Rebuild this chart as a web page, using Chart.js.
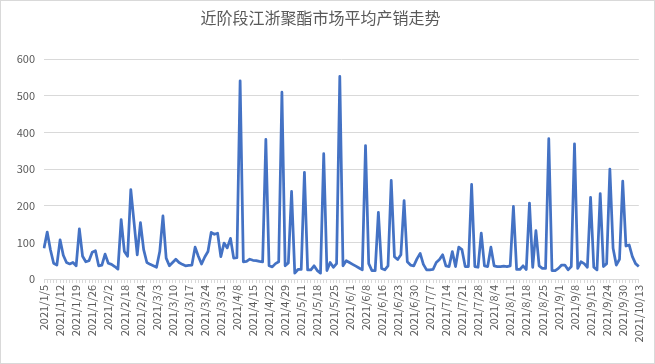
<!DOCTYPE html>
<html lang="zh">
<head>
    <meta charset="UTF-8">
    <title>近阶段江浙聚酯市场平均产销走势</title>
    <script src="https://cdn.jsdelivr.net/npm/chart.js"></script>
    <style>
        * {
            padding: 0px;
            margin: 0px;
            box-sizing: border-box;
        }

        body {
            background-color: #ffffff;
        }

        .chart-box {
            width: 655px;
            height: 364px;
            border: 1px solid #d9d9d9;
            background-color: #ffffff;
        }
    </style>
</head>

<body>
    <div class="chart-box">
        <canvas id="chart1" width="653" height="362"></canvas>
    </div>

    <script>
        // tick labels, one every 5 trading days
        const tickLabels = ['2021/1/5', '2021/1/12', '2021/1/19', '2021/1/26', '2021/2/2', '2021/2/18',
            '2021/2/24', '2021/3/3', '2021/3/10', '2021/3/17', '2021/3/24', '2021/3/31', '2021/4/8',
            '2021/4/15', '2021/4/22', '2021/4/29', '2021/5/11', '2021/5/18', '2021/5/25', '2021/6/1',
            '2021/6/8', '2021/6/16', '2021/6/23', '2021/6/30', '2021/7/7', '2021/7/14', '2021/7/21',
            '2021/7/28', '2021/8/4', '2021/8/11', '2021/8/18', '2021/8/25', '2021/9/1', '2021/9/8',
            '2021/9/15', '2021/9/24', '2021/9/30', '2021/10/13'];

        // average sales ratio (%), one value per trading day
        const salesRatio = [
            84, 128, 80, 43, 38, 107, 65, 45, 41, 45,
            36, 137, 62, 47, 50, 73, 77, 36, 38, 68,
            43, 40, 34, 27, 162, 75, 62, 244, 155, 66,
            154, 80, 45, 40, 36, 32, 75, 172, 57, 36,
            45, 54, 45, 40, 36, 37, 38, 87, 62, 41,
            60, 75, 127, 122, 125, 61, 98, 85, 111, 57,
            58, 541, 47, 48, 54, 51, 50, 48, 47, 381,
            36, 33, 42, 47, 510, 36, 44, 239, 16, 26,
            26, 291, 25, 25, 36, 23, 16, 342, 23, 45,
            32, 42, 553, 36, 50, 45, 40, 35, 30, 25,
            364, 42, 23, 23, 182, 29, 25, 36, 269, 61,
            53, 66, 214, 47, 38, 36, 55, 70, 40, 25,
            25, 26, 45, 53, 66, 36, 34, 75, 34, 87,
            80, 34, 34, 258, 34, 32, 125, 36, 34, 87,
            36, 34, 34, 35, 34, 36, 198, 26, 26, 36,
            26, 207, 32, 132, 36, 29, 29, 383, 23, 23,
            29, 38, 38, 25, 34, 369, 29, 47, 42, 32,
            223, 32, 25, 233, 34, 42, 300, 84, 38, 54,
            267, 90, 93, 61, 42, 34
        ];

        const labelStep = 5;
        const labels = salesRatio.map((v, i) => (i % labelStep === 0 ? tickLabels[i / labelStep] : ''));

        const ctx = document.getElementById('chart1').getContext('2d');
        new Chart(ctx, {
            type: 'line',
            data: {
                labels: labels,
                datasets: [{
                    label: '平均产销',
                    data: salesRatio,
                    fill: false,
                    borderColor: '#4472c4',
                    borderWidth: 2.75,
                    borderJoinStyle: 'round',
                    pointRadius: 0,
                    tension: 0
                }]
            },
            options: {
                responsive: false,
                animation: false,
                layout: {
                    padding: { left: 0, right: 14, top: 0, bottom: 0 }
                },
                plugins: {
                    legend: { display: false },
                    tooltip: { enabled: false },
                    title: {
                        display: true,
                        text: '近阶段江浙聚酯市场平均产销走势',
                        color: '#595959',
                        font: { family: 'Noto Sans CJK SC', size: 16, weight: 'normal' },
                        padding: { top: 7, bottom: 32 }
                    }
                },
                scales: {
                    x: {
                        offset: false,
                        grid: {
                            display: true,
                            drawOnChartArea: false,
                            drawTicks: true,
                            tickLength: 4,
                            color: '#d9d9d9'
                        },
                        border: { color: '#d9d9d9' },
                        ticks: {
                            autoSkip: false,
                            maxRotation: 90,
                            minRotation: 90,
                            padding: 2,
                            color: '#595959',
                            font: { family: 'Noto Sans CJK SC', size: 11 }
                        },
                        afterFit: (scale) => { scale.height = 84; }
                    },
                    y: {
                        min: 0,
                        max: 600,
                        grid: {
                            color: '#d9d9d9',
                            drawTicks: false
                        },
                        border: { display: false },
                        ticks: {
                            stepSize: 100,
                            padding: 9,
                            color: '#595959',
                            font: { family: 'Noto Sans CJK SC', size: 11 }
                        },
                        afterFit: (scale) => { scale.width = 43; }
                    }
                }
            }
        });
    </script>
</body>
</html>
